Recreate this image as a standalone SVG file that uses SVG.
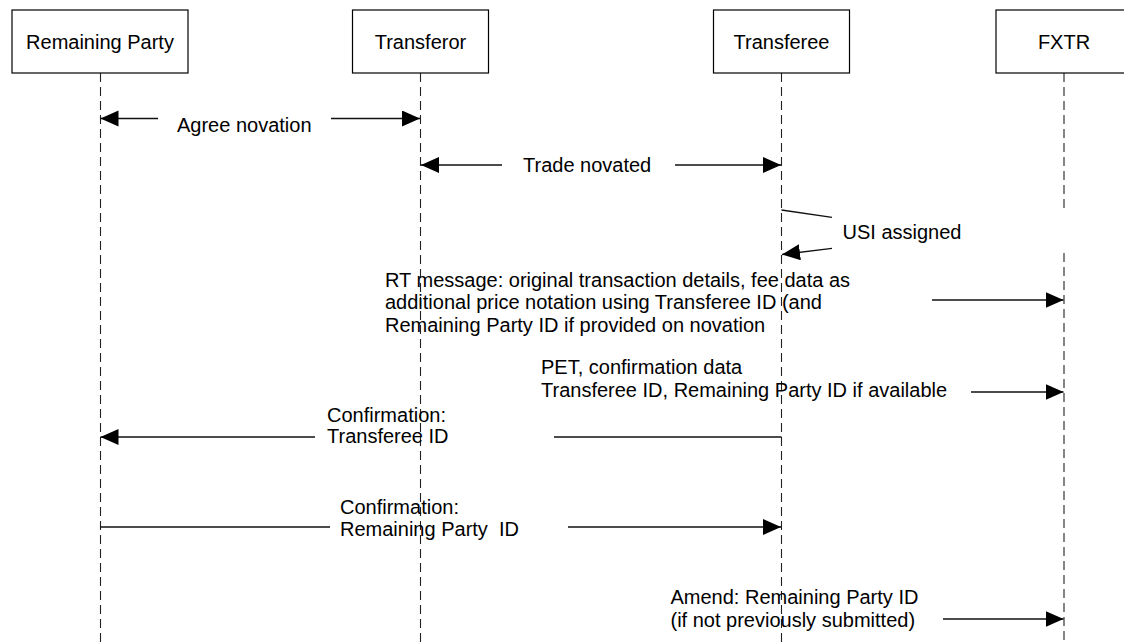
<svg xmlns="http://www.w3.org/2000/svg" width="1124" height="643" viewBox="0 0 1124 643">
  <style>
    .box { fill: #ffffff; stroke: #000000; stroke-width: 1.2; }
    .life { stroke: #222222; stroke-width: 1.1; stroke-dasharray: 9 5; fill: none; }
    .msg { stroke: #111111; stroke-width: 1.3; fill: none; }
    .arr { marker-end: url(#head); }
    text { font-family: "Liberation Sans", Arial, sans-serif; font-size: 20px; fill: #000000; }
    .c { text-anchor: middle; }
  </style>
  <defs>
    <marker id="head" markerUnits="userSpaceOnUse" markerWidth="19" markerHeight="17" refX="18" refY="8" orient="auto">
      <path d="M0,0 L18,8 L0,16 Z" fill="#000000"/>
    </marker>
  </defs>

  <rect width="1124" height="643" fill="#ffffff"/>

  <!-- lifelines -->
  <g id="lifelines">
    <line class="life" x1="100.5" y1="73" x2="100.5" y2="643"/>
    <line class="life" x1="420.5" y1="73" x2="420.5" y2="643"/>
    <line class="life" x1="781.5" y1="73" x2="781.5" y2="643"/>
    <line class="life" x1="1064" y1="73" x2="1064" y2="211"/>
    <line class="life" x1="1064" y1="253" x2="1064" y2="643"/>
  </g>

  <!-- participants -->
  <g id="remaining-party">
    <rect class="box" x="12" y="10" width="176" height="63"/>
    <text class="c" x="100" y="48.5">Remaining Party</text>
  </g>
  <g id="transferor">
    <rect class="box" x="352.5" y="10" width="136" height="63"/>
    <text class="c" x="420.5" y="48.5">Transferor</text>
  </g>
  <g id="transferee">
    <rect class="box" x="713.5" y="10" width="136" height="63"/>
    <text class="c" x="781.5" y="48.5">Transferee</text>
  </g>
  <g id="fxtr">
    <rect class="box" x="996" y="10" width="136" height="63"/>
    <text class="c" x="1064" y="48.5">FXTR</text>
  </g>

  <!-- messages -->
  <g id="connectors">
    <line class="msg arr" x1="158" y1="118.5" x2="100.5" y2="118.5"/>
    <line class="msg arr" x1="331" y1="118.5" x2="420" y2="118.5"/>

    <line class="msg arr" x1="502" y1="165" x2="421" y2="165"/>
    <line class="msg arr" x1="675" y1="165" x2="781" y2="165"/>

    <line class="msg" x1="781.5" y1="210" x2="832" y2="217.3"/>
    <line class="msg arr" x1="832" y1="248.3" x2="782" y2="254.5"/>

    <line class="msg arr" x1="932" y1="300" x2="1063.5" y2="300"/>

    <line class="msg arr" x1="971" y1="392" x2="1063.5" y2="392"/>

    <line class="msg arr" x1="315" y1="437" x2="100.5" y2="437"/>
    <line class="msg" x1="554" y1="437" x2="781.5" y2="437"/>

    <line class="msg" x1="100.5" y1="527" x2="330" y2="527"/>
    <line class="msg arr" x1="568" y1="527" x2="781" y2="527"/>

    <line class="msg arr" x1="943" y1="619" x2="1063.5" y2="619"/>
  </g>

  <!-- message labels -->
  <g id="labels">
    <text x="177" y="131.5">Agree novation</text>
    <text x="523" y="171.5">Trade novated</text>
    <text x="842.5" y="238.5">USI assigned</text>
    <text x="385" y="286.5">RT message: original transaction details, fee data as</text>
    <text x="385" y="309">additional price notation using Transferee ID (and</text>
    <text x="385" y="331.5">Remaining Party ID if provided on novation</text>
    <text x="541" y="373.5">PET, confirmation data</text>
    <text x="541" y="396.5">Transferee ID, Remaining Party ID if available</text>
    <text x="327" y="422">Confirmation:</text>
    <text x="327" y="443">Transferee ID</text>
    <text x="340" y="514">Confirmation:</text>
    <text x="340" y="535.5" xml:space="preserve">Remaining Party  ID</text>
    <text x="670.5" y="604">Amend: Remaining Party ID</text>
    <text x="670.5" y="627">(if not previously submitted)</text>
  </g>
</svg>
